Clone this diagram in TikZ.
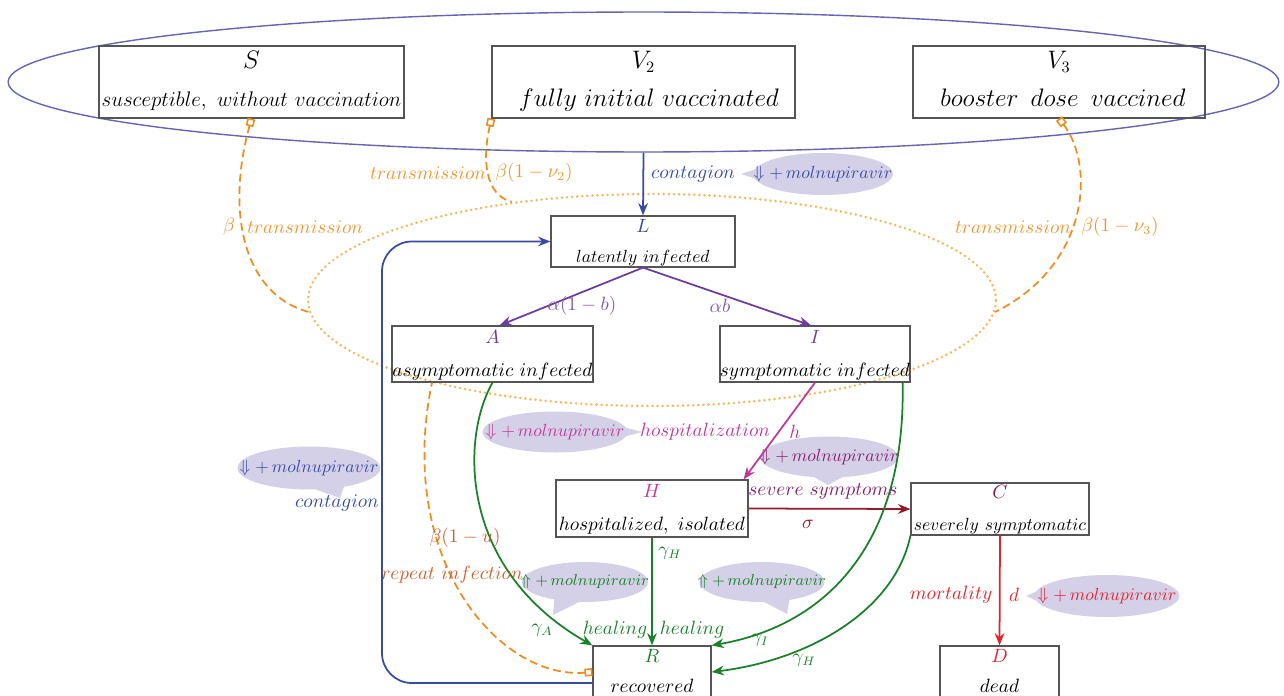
\documentclass[tikz,border=0pt]{standalone}
\usetikzlibrary{arrows.meta,shapes.geometric,shapes.callouts}
\definecolor{ellblue}{RGB}{100,100,185}
\definecolor{cblue}{RGB}{55,75,165}
\definecolor{orng}{RGB}{240,140,30}
\definecolor{lorng}{RGB}{250,180,90}
\definecolor{torng}{RGB}{240,150,45}
\definecolor{brwn}{RGB}{205,95,45}
\definecolor{purp}{RGB}{110,60,160}
\definecolor{lpurp}{RGB}{130,90,175}
\definecolor{mgnt}{RGB}{195,55,150}
\definecolor{dmag}{RGB}{135,30,105}
\definecolor{dred}{RGB}{150,25,40}
\definecolor{cred}{RGB}{150,20,70}
\definecolor{grn}{RGB}{25,130,40}
\definecolor{rred}{RGB}{225,35,45}
\definecolor{bubble}{RGB}{212,208,232}
\definecolor{boxgray}{RGB}{85,85,85}
\newcommand{\molD}{\makebox[0pt]{$\Downarrow +\,molnupiravir$}}
\newcommand{\molU}{\makebox[0pt]{$\Uparrow +\,molnupiravir$}}
\begin{document}
\begin{tikzpicture}[x=0.02cm,y=-0.02cm,
  box/.style={draw=boxgray,line width=0.7pt,rectangle,inner sep=0pt},
  ttl/.style={inner sep=0pt,anchor=base,font=\fontsize{13.5}{15}\selectfont},
  btl/.style={inner sep=0pt,anchor=base,font=\fontsize{10.7}{12}\selectfont},
  lbl/.style={inner sep=0pt,font=\fontsize{10.5}{12}\selectfont},
  bub/.style={ellipse callout,fill=bubble,draw=none,inner sep=0pt,callout pointer arc=24,font=\fontsize{10}{12}\selectfont},
  arr/.style={line width=1pt,-{Stealth[length=7pt,width=5.5pt]}},
  dsh/.style={line width=1pt,dash pattern=on 4.5pt off 2.5pt,{Square[open,length=4.5pt,width=4.5pt,line width=0.9pt]}-},
]
\useasboundingbox (0,0) rectangle (1284,696);
\clip (0,0) rectangle (1284,696);

% big ellipse and dotted ellipse
\node[draw=ellblue,line width=0.8pt,ellipse,inner sep=0pt,minimum width=25.42cm,minimum height=2.8cm] (V) at (643.5,82) {};
\node[draw=lorng,line width=1.6pt,ellipse,inner sep=0pt,minimum width=13.76cm,minimum height=4.24cm,dash pattern=on 0pt off 2.9pt,line cap=round] (E) at (652,300) {};

% boxes
\node[box,minimum width=6.1cm,minimum height=1.44cm] (S) at (251.5,82) {};
\node[box,minimum width=6.06cm,minimum height=1.44cm] (V2) at (643.5,82) {};
\node[box,minimum width=5.84cm,minimum height=1.44cm] (V3) at (1059,82) {};
\node[box,minimum width=3.68cm,minimum height=1.02cm] (L) at (643,241.5) {};
\node[box,minimum width=4.02cm,minimum height=1.12cm] (A) at (492.5,354) {};
\node[box,minimum width=3.8cm,minimum height=1.12cm] (I) at (815,354) {};
\node[box,minimum width=3.84cm,minimum height=1.14cm] (H) at (652,508.5) {};
\node[box,minimum width=3.56cm,minimum height=1.04cm] (C) at (1000,509) {};
\node[box,minimum width=2.36cm,minimum height=1.48cm] (R) at (652,683) {};
\node[box,minimum width=2.38cm,minimum height=1.48cm] (D) at (999.5,683) {};

% box texts
\node[ttl] (St) at (251.5,69) {$S$};
\node[ttl,font=\fontsize{12.3}{14}\selectfont] (Sd) at (251.5,107) {$susceptible,\ without\ vaccination$};
\node[ttl] (V2t) at (643.5,69) {$V_2$};
\node[ttl] (V2d) at (649,107) {$fully\ initial\ vaccinated$};
\node[ttl] (V3t) at (1059,69) {$V_3$};
\node[ttl,font=\fontsize{14}{16}\selectfont] (V3d) at (1063,107) {$booster\ \,dose\ \,vaccined$};
\node[btl,text=cblue] (Lt) at (643,232) {$L$};
\node[btl,font=\fontsize{10}{12}\selectfont] (Ld) at (643,262) {$latently\ infected$};
\node[btl,text=purp] (At) at (492.5,343) {$A$};
\node[btl] (Ad) at (492.5,376) {$asymptomatic\ infected$};
\node[btl,text=purp] (It) at (815,343) {$I$};
\node[btl] (Id) at (815,376) {$symptomatic\ infected$};
\node[btl,text=mgnt] (Ht) at (652,497) {$H$};
\node[btl] (Hd) at (652,530) {$hospitalized,\ isolated$};
\node[btl,text=cred] (Ct) at (1000,498) {$C$};
\node[btl,font=\fontsize{10.2}{12}\selectfont] (Cd) at (1000,530) {$severely\ symptomatic$};
\node[btl,text=grn] (Rt) at (652,662) {$R$};
\node[btl] (Rd) at (652,692) {$recovered$};
\node[btl,text=rred] (Dt) at (999.5,662) {$D$};
\node[btl] (Dd) at (999.5,692) {$dead$};

% bubbles
\node[bub,minimum width=2.8cm,minimum height=0.84cm,callout absolute pointer={(741,174)},text=cblue] (bT) at (823,174) {\molD};
\node[bub,minimum width=2.86cm,minimum height=0.86cm,callout absolute pointer={(340,498)},text=cblue] (bL) at (309,468) {\molD};
\node[bub,minimum width=2.9cm,minimum height=0.82cm,callout absolute pointer={(642,432)},text=mgnt] (bHo) at (555,432) {\molD};
\node[bub,minimum width=2.76cm,minimum height=0.82cm,callout absolute pointer={(828,485)},text=dmag] (bh) at (829,457) {\molD};
\node[bub,minimum width=2.52cm,minimum height=0.8cm,callout absolute pointer={(553,615)},text=grn,font=\fontsize{9}{11}\selectfont] (bG1) at (585,582) {\molU};
\node[bub,minimum width=2.5cm,minimum height=0.8cm,callout absolute pointer={(787,614)},text=grn,font=\fontsize{9}{11}\selectfont] (bG2) at (762,582) {\molU};
\node[bub,minimum width=2.9cm,minimum height=0.84cm,callout absolute pointer={(1026,596)},text=rred] (bM) at (1107,596) {\molD};

% connectors
\draw[arr,cblue] (V.south) -- (L.north);
\coordinate (Lp) at (382,241.5);
\draw[arr,cblue,rounded corners=17pt] (R.west) -| (Lp) -- (L.west);
\draw[arr,purp] (L.south) -- ([xshift=0.14cm]A.north);
\draw[arr,purp] (L.south) -- ([xshift=-0.08cm]I.north);
\draw[arr,mgnt] (I.south) -- ([xshift=-0.1cm]H.north east);
\draw[arr,dred] (H.east) -- (C.west);
\draw[arr,rred] (C.south) -- (D.north);
\draw[arr,grn] (A.south) .. controls (460,440) and (460,570) .. (R.north west);
\draw[arr,grn] (H.south) -- (R.north);
\draw[arr,grn] ([xshift=-0.16cm]I.south east) .. controls (906,540) and (830,625) .. (R.north east);
\draw[arr,grn] (C.south west) .. controls (895,610) and (810,660) .. ([yshift=0.22cm]R.east);

\draw[dsh,orng] (S.south) .. controls (225,215) and (245,295) .. (E.182);
\draw[dsh,orng] (V2.south west) .. controls (482,160) and (485,195) .. (E.145);
\draw[dsh,orng] (V3.south) .. controls (1095,165) and (1090,265) .. (E.358);
\draw[dsh,orng] ([yshift=0.22cm]R.west) .. controls (500,680) and (395,560) .. ([xshift=-1.21cm]A.south);

% labels
\node[lbl,text=cblue] (l1) at (693,174) {$contagion$};
\node[lbl,text=torng] (l2) at (229,227) {$\beta$};
\node[lbl,text=torng] (l3) at (305,227) {$transmission$};
\node[lbl,text=torng] (l4) at (428,173) {$transmission$};
\node[lbl,text=torng] (l5) at (534,173) {$\beta(1-\nu_2)$};
\node[lbl,text=torng] (l6) at (1013,227) {$transmission$};
\node[lbl,text=torng] (l7) at (1120,227) {$\beta(1-\nu_3)$};
\node[lbl,text=lpurp] (l8) at (582,306) {$\alpha(1-b)$};
\node[lbl,text=lpurp] (l9) at (720,306) {$\alpha b$};
\node[lbl,text=mgnt] (l10) at (705,432) {$hospitalization$};
\node[lbl,text=mgnt] (l11) at (795,432) {$h$};
\node[lbl,text=dmag] (l12) at (823,491) {$severe\ symptoms$};
\node[lbl,text=dred] (l13) at (808,524) {$\sigma$};
\node[lbl,text=cblue] (l14) at (337,503) {$contagion$};
\node[lbl,text=brwn] (l15) at (465,538) {$\beta(1-u)$};
\node[lbl,text=brwn] (l16) at (452,575) {$repeat\ infection$};
\node[lbl,text=grn] (l17) at (542,630) {$\gamma_A$};
\node[lbl,text=grn] (l18) at (615,630) {$healing$};
\node[lbl,text=grn] (l19) at (692,630) {$healing$};
\node[lbl,text=grn] (l20) at (670,553) {$\gamma_H$};
\node[lbl,text=grn] (l21) at (760,640) {$\gamma_I$};
\node[lbl,text=grn] (l22) at (804,660) {$\gamma_H$};
\node[lbl,text=rred] (l23) at (951,595) {$mortality$};
\node[lbl,text=rred] (l24) at (1014,595) {$d$};
\end{tikzpicture}
\end{document}
